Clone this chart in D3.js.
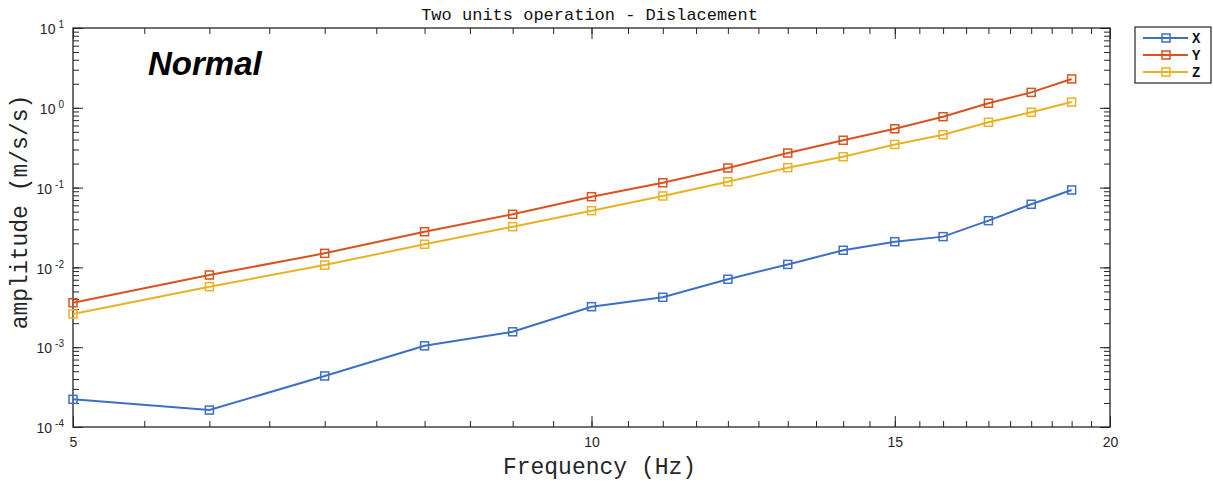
<!DOCTYPE html>
<html>
<head>
<meta charset="utf-8">
<script src="https://d3js.org/d3.v7.min.js"></script>
<style>
  body { margin: 0; background: #fff; }
  svg { display: block; }
</style>
</head>
<body>
<div id="chart-area"></div>
<script>
  // values
  var freq = [5, 6, 7, 8, 9, 10, 11, 12, 13, 14, 15, 16, 17, 18, 19];
  var ampX = [2.22e-4, 1.63e-4, 4.36e-4, 1.04e-3, 1.56e-3, 3.22e-3, 4.22e-3, 7.10e-3, 1.09e-2, 1.64e-2, 2.10e-2, 2.43e-2, 3.85e-2, 6.18e-2, 9.33e-2];
  var ampY = [3.61e-3, 8.03e-3, 1.50e-2, 2.80e-2, 4.63e-2, 7.69e-2, 0.115, 0.176, 0.271, 0.392, 0.546, 0.773, 1.14, 1.56, 2.30];
  var ampZ = [2.61e-3, 5.73e-3, 1.07e-2, 1.95e-2, 3.24e-2, 5.14e-2, 7.85e-2, 0.1186, 0.1776, 0.244, 0.347, 0.460, 0.658, 0.879, 1.18];
  var seriesNames = ['X', 'Y', 'Z'];
  var seriesColors = ['#3d6fc6', '#d9531e', '#e9b225'];
  var xLabelTicks = [5, 10, 15, 20];
  var yDecades = [1e-4, 1e-3, 1e-2, 1e-1, 1e0, 1e1];

  var W = 1213, H = 486;
  var margin = {left: 73, right: 103, top: 28, bottom: 59};
  var width = W - margin.left - margin.right,
      height = H - margin.top - margin.bottom;
  var axisColor = '#262626';
  var mono = '"Liberation Mono", "Courier New", monospace';
  var sans = '"Liberation Sans", Arial, sans-serif';

  var svg = d3.select('#chart-area').append('svg')
      .attr('width', W).attr('height', H);
  var g = svg.append('g')
      .attr('transform', 'translate(' + margin.left + ',' + margin.top + ')');

  var x = d3.scaleLog().domain([5, 20]).range([0, width]);
  var y = d3.scaleLog().domain([1e-4, 10]).range([height, 0]);

  var xMinor = d3.range(5, 20.01, 0.5);
  var yMinor = y.ticks();

  function styleAxis(sel) {
    sel.select('.domain').remove();
    sel.selectAll('line').attr('stroke', axisColor).attr('stroke-width', 1);
  }

  // bottom & top ticks (inward)
  g.append('g').attr('transform', 'translate(0,' + height + ')')
    .call(d3.axisBottom(x).tickValues(xMinor).tickSize(-6).tickFormat(''))
    .call(styleAxis);
  var xMaj = g.append('g').attr('transform', 'translate(0,' + height + ')')
    .call(d3.axisBottom(x).tickValues(xLabelTicks).tickSize(-11).tickPadding(10)
      .tickFormat(d3.format('d')))
    .call(styleAxis);
  xMaj.selectAll('text').attr('font-family', sans).attr('font-size', '14px').attr('fill', axisColor);
  g.append('g')
    .call(d3.axisTop(x).tickValues(xMinor).tickSize(-6).tickFormat(''))
    .call(styleAxis);
  g.append('g')
    .call(d3.axisTop(x).tickValues(xLabelTicks).tickSize(-11).tickFormat(''))
    .call(styleAxis);

  // left & right ticks (inward)
  g.append('g').call(d3.axisLeft(y).tickValues(yMinor).tickSize(-6).tickFormat('')).call(styleAxis);
  var yMaj = g.append('g').call(d3.axisLeft(y).tickValues(yDecades).tickSize(-10).tickFormat(''))
    .call(styleAxis);
  g.append('g').attr('transform', 'translate(' + width + ',0)')
    .call(d3.axisRight(y).tickValues(yMinor).tickSize(-6).tickFormat('')).call(styleAxis);
  g.append('g').attr('transform', 'translate(' + width + ',0)')
    .call(d3.axisRight(y).tickValues(yDecades).tickSize(-10).tickFormat('')).call(styleAxis);

  // y tick labels with superscript exponent
  yMaj.selectAll('.tick').each(function(d) {
    var t = d3.select(this).append('text')
      .attr('x', -9).attr('y', 0).attr('dy', '0.4em')
      .attr('text-anchor', 'end')
      .attr('font-family', sans).attr('font-size', '14px').attr('fill', axisColor);
    t.append('tspan').text('10');
    t.append('tspan').attr('dy', '-0.6em').attr('dx', '3')
      .attr('font-size', '10px').text(Math.round(Math.log10(d)));
  });

  // box
  g.append('rect').attr('width', width).attr('height', height)
    .attr('fill', 'none').attr('stroke', axisColor).attr('stroke-width', 1.3);

  // lines
  var series = [ampX, ampY, ampZ];
  var line = d3.line()
      .x(function(d, i) { return x(freq[i]); })
      .y(function(d) { return y(d); });
  series.forEach(function(vals, s) {
    g.append('path')
      .attr('fill', 'none')
      .attr('stroke', seriesColors[s])
      .attr('stroke-width', 2)
      .attr('d', line(vals));
    g.selectAll('.mk' + s).data(vals).enter().append('rect')
      .attr('class', 'mk' + s)
      .attr('x', function(d, i) { return x(freq[i]) - 4; })
      .attr('y', function(d) { return y(d) - 4; })
      .attr('width', 8).attr('height', 8)
      .attr('fill', 'none')
      .attr('stroke', seriesColors[s])
      .attr('stroke-width', 1.5);
  });

  // title and labels
  svg.append('text')
    .attr('x', margin.left + width / 2 - 2).attr('y', 20)
    .attr('text-anchor', 'middle')
    .attr('font-family', mono).attr('font-size', '17px').attr('fill', '#111')
    .text('Two units operation - Dislacement');
  svg.append('text')
    .attr('x', margin.left + width / 2 + 8).attr('y', 474)
    .attr('text-anchor', 'middle')
    .attr('font-family', mono).attr('font-size', '23px').attr('fill', axisColor)
    .text('Frequency (Hz)');
  svg.append('text')
    .attr('transform', 'rotate(-90)')
    .attr('x', -212).attr('y', 27)
    .attr('text-anchor', 'middle')
    .attr('font-family', mono).attr('font-size', '23px').attr('fill', axisColor)
    .text('amplitude (m/s/s)');
  svg.append('text')
    .attr('x', 148).attr('y', 75)
    .attr('font-family', sans).attr('font-weight', 'bold').attr('font-style', 'italic')
    .attr('font-size', '33px').attr('fill', '#000')
    .text('Normal');

  // legend
  var legend = svg.append('g').attr('transform', 'translate(1135,27)');
  legend.append('rect').attr('width', 76).attr('height', 56)
    .attr('fill', '#fff').attr('stroke', axisColor).attr('stroke-width', 1.2);
  seriesNames.forEach(function(name, i) {
    var row = legend.append('g').attr('transform', 'translate(0,' + (11 + i * 17) + ')');
    row.append('line').attr('x1', 8).attr('x2', 53).attr('y1', 0).attr('y2', 0)
      .attr('stroke', seriesColors[i]).attr('stroke-width', 2);
    row.append('rect').attr('x', 27).attr('y', -4).attr('width', 8).attr('height', 8)
      .attr('fill', 'none').attr('stroke', seriesColors[i]).attr('stroke-width', 1.5);
    row.append('text').attr('x', 57).attr('y', 0).attr('dy', '0.35em')
      .attr('font-family', mono).attr('font-weight', 'bold').attr('font-size', '14px')
      .attr('fill', '#111').text(name);
  });
</script>
</body>
</html>
